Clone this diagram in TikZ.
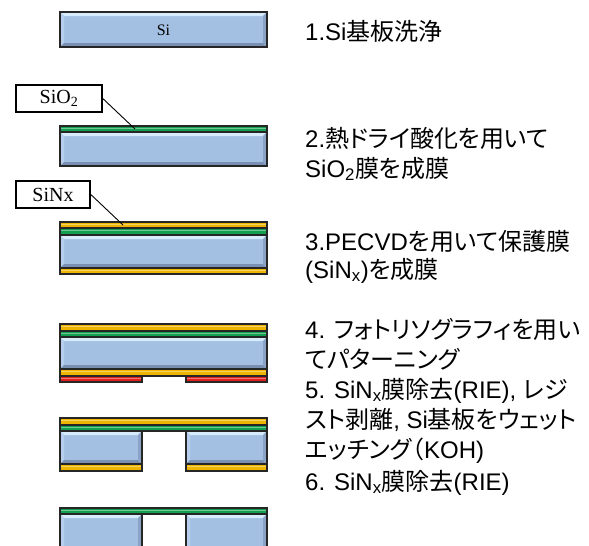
\documentclass[tikz,border=0pt]{standalone}
\usepackage{fontspec}
\setmainfont{Liberation Sans}
\newfontfamily\jp[RawFeature=+palt]{Noto Sans CJK JP}
\newfontfamily\tms{Liberation Serif}
\usetikzlibrary{calc}

\definecolor{siBase}{HTML}{A3C0E3}
\definecolor{siHi}{HTML}{D8EBFB}
\definecolor{siLeft}{HTML}{B7CFEC}
\definecolor{siLo}{HTML}{7990B3}
\definecolor{siRight}{HTML}{8AA3C6}
\definecolor{edge}{HTML}{262626}
\definecolor{oxide}{HTML}{12A050}
\definecolor{nitride}{HTML}{EDB400}
\definecolor{resist}{HTML}{E0201C}

\tikzset{
  outline/.style={draw=edge, line width=1.3pt},
  stepline/.style={anchor=base west, inner sep=0pt, font=\fontsize{24}{30}\selectfont},
  tag/.style={draw=black, line width=1.6pt, fill=white, inner sep=0pt,
              minimum height=27pt, font=\tms\fontsize{20}{20}\selectfont},
  leader/.style={draw=black, line width=0.9pt},
}

% bevelled silicon block: x1, y1, x2, y2 (y grows downward)
\newcommand\sibar[4]{%
  \fill[siBase] (#1,#2) rectangle (#3,#4);
  \fill[siHi] (#1,#2) -- (#3,#2) -- (#3-4,#2+4) -- (#1+4,#2+4) -- cycle;
  \fill[siLeft] (#1,#2) -- (#1+4,#2+4) -- (#1+4,#4-4) -- (#1,#4) -- cycle;
  \fill[siLo] (#1,#4) -- (#1+4,#4-4) -- (#3-4,#4-4) -- (#3,#4) -- cycle;
  \fill[siRight] (#3,#2) -- (#3-4,#2+4) -- (#3-4,#4-4) -- (#3,#4) -- cycle;
  \draw[outline] (#1,#2) rectangle (#3,#4);
}
% thin film: x1, y1, x2, y2, colour
\newcommand\film[5]{%
  \fill[#5] (#1,#2) rectangle (#3,#4);
  \fill[#5!60!white] (#1+1,#2+1.5) rectangle (#3-1,#2+2.8);
  \draw[outline] (#1,#2) rectangle (#3,#4);
}

\begin{document}
\begin{tikzpicture}[x=1pt,y=-1pt]
\useasboundingbox (0,0) rectangle (589,546);

% ---- step 1: bare wafer
\sibar{60}{12}{267}{47}
\node[inner sep=0pt, font=\tms\fontsize{16}{16}\selectfont] (si) at (163.5,30) {Si};

% ---- step 2: thermal oxide
\film{60}{126}{267}{132}{oxide}
\sibar{60}{132}{267}{166}
\node[tag, minimum width=86pt] (sio2) at (59,98.5) {SiO\textsubscript{2}};
\coordinate (sio2pt) at (135,129);
\draw[leader] (sio2.east) -- (sio2pt);

% ---- step 3: PECVD nitride on both faces
\film{60}{222}{267}{228}{nitride}
\film{60}{228}{267}{235}{oxide}
\sibar{60}{235}{267}{268}
\film{60}{268}{267}{274}{nitride}
\node[tag, minimum width=74pt] (sinx) at (53,194.5) {SiNx};
\coordinate (sinxpt) at (123,225);
\draw[leader] (sinx.east) -- (sinxpt);

% ---- step 4: patterned resist underneath
\film{60}{324}{267}{331}{nitride}
\film{60}{331}{267}{337}{oxide}
\sibar{60}{337}{267}{369}
\film{60}{369}{267}{376}{nitride}
\film{60}{376}{142}{382}{resist}
\film{186}{376}{267}{382}{resist}

% ---- step 5: nitride opened, silicon etched through
\film{60}{418}{267}{425}{nitride}
\film{60}{425}{267}{431}{oxide}
\sibar{60}{431}{142}{464}
\sibar{186}{431}{267}{464}
\film{60}{464}{142}{471}{nitride}
\film{186}{464}{267}{471}{nitride}

% ---- step 6: membrane released
\film{60}{508}{267}{514}{oxide}
\sibar{60}{514}{142}{550}
\sibar{186}{514}{267}{550}

% ---- process descriptions
\node[stepline] (t1)  at (305,40)  {1.Si{\jp 基板洗浄}};
\node[stepline] (t2a) at (305,147) {2.{\jp 熱ドライ酸化を用いて}};
\node[stepline] (t2b) at (305,177) {SiO\textsubscript{2}{\jp 膜を成膜}};
\node[stepline] (t3a) at (305,250) {3.PECVD{\jp を用いて保護膜}};
\node[stepline] (t3b) at (305,278) {(SiN\textsubscript{x}){\jp を成膜}};
\node[stepline] (t4a) at (305,338) {4. {\jp フォトリソグラフィを用い}};
\node[stepline] (t4b) at (305,368) {{\jp てパターニング}};
\node[stepline] (t5a) at (305,398) {5. SiN\textsubscript{x}{\jp 膜除去}(RIE), {\jp レジ}};
\node[stepline] (t5b) at (305,428) {{\jp スト剥離}, Si{\jp 基板をウェット}};
\node[stepline] (t5c) at (305,458) {{\jp エッチング（}KOH)};
\node[stepline] (t6)  at (305,490) {6. SiN\textsubscript{x}{\jp 膜除去}(RIE)};
\end{tikzpicture}
\end{document}
